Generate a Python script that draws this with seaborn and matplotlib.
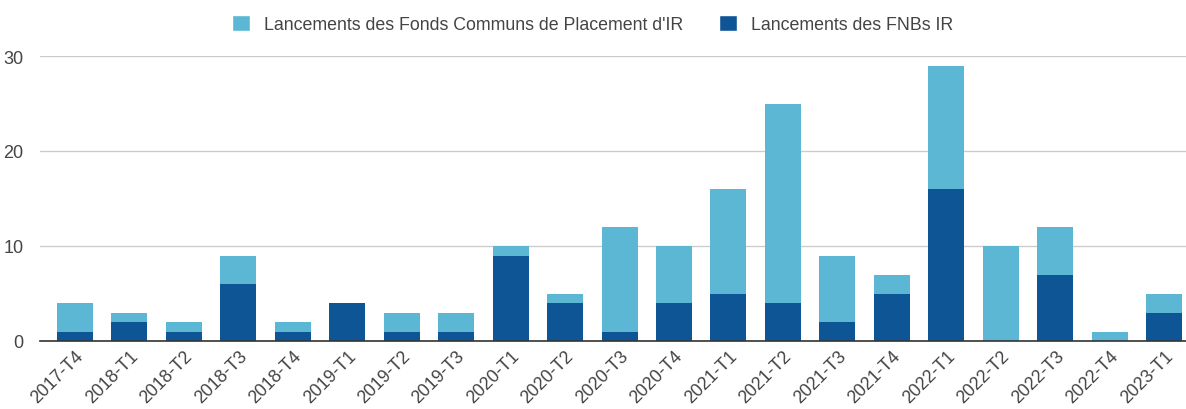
import matplotlib
matplotlib.use("Agg")
import matplotlib.pyplot as plt
import seaborn as sns
import pandas as pd
from matplotlib.patches import Patch

trimestres = ["2017-T4", "2018-T1", "2018-T2", "2018-T3", "2018-T4", "2019-T1", "2019-T2",
              "2019-T3", "2020-T1", "2020-T2", "2020-T3", "2020-T4", "2021-T1", "2021-T2",
              "2021-T3", "2021-T4", "2022-T1", "2022-T2", "2022-T3", "2022-T4", "2023-T1"]
fnb_ir = [1, 2, 1, 6, 1, 4, 1, 1, 9, 4, 1, 4, 5, 4, 2, 5, 16, 0, 7, 0, 3]
fonds_ir = [3, 1, 1, 3, 1, 0, 2, 2, 1, 1, 11, 6, 11, 21, 7, 2, 13, 10, 5, 1, 2]

lbl_fonds = "Lancements des Fonds Communs de Placement d'IR"
lbl_fnb = "Lancements des FNBs IR"
c_light = "#5bb7d3"
c_dark = "#0e5596"

df = pd.DataFrame({"trimestre": trimestres, "fnb": fnb_ir, "fonds": fonds_ir})
df["total"] = df["fnb"] + df["fonds"]

sns.set_style("white")
plt.rcParams["font.family"] = ["Liberation Sans", "DejaVu Sans"]

fig = plt.figure(figsize=(11.86, 4.10), dpi=100)
ax = fig.add_axes([40 / 1186, 1 - 342 / 410, 1 - 40 / 1186, (342 - 57) / 410])

# stacked: total in light colour, FNB drawn over it from zero
sns.barplot(data=df, x="trimestre", y="total", color=c_light, width=0.66,
            saturation=1, linewidth=0, ax=ax, zorder=2)
sns.barplot(data=df, x="trimestre", y="fnb", color=c_dark, width=0.66,
            saturation=1, linewidth=0, ax=ax, zorder=3)

ax.set_ylim(0, 30)
ax.set_xlim(-0.64, 20.4)
ax.set_yticks([0, 10, 20, 30])
ax.yaxis.grid(True, color="#cccccc", linewidth=1, zorder=0)
ax.set_axisbelow(True)
ax.set_xlabel("")
ax.set_ylabel("")
for s in ["top", "right", "left"]:
    ax.spines[s].set_visible(False)
ax.spines["bottom"].set_color("#333333")
ax.spines["bottom"].set_linewidth(1.2)
ax.spines["bottom"].set_zorder(4)
ax.tick_params(axis="y", length=0, labelsize=13, labelcolor="#444444", pad=12)
ax.tick_params(axis="x", length=0, labelsize=12.8, labelcolor="#444444", pad=4)
plt.setp(ax.get_xticklabels(), rotation=45, ha="right", rotation_mode="anchor")

handles = [Patch(facecolor=c_light, label=lbl_fonds), Patch(facecolor=c_dark, label=lbl_fnb)]
fig.legend(handles=handles, loc="upper center", bbox_to_anchor=(0.5, 1.0), ncol=2,
           frameon=False, fontsize=12.8, handlelength=1.0, handleheight=1.0,
           columnspacing=2.0, handletextpad=0.8, labelcolor="#444444")

fig.savefig("out.png", dpi=100)
